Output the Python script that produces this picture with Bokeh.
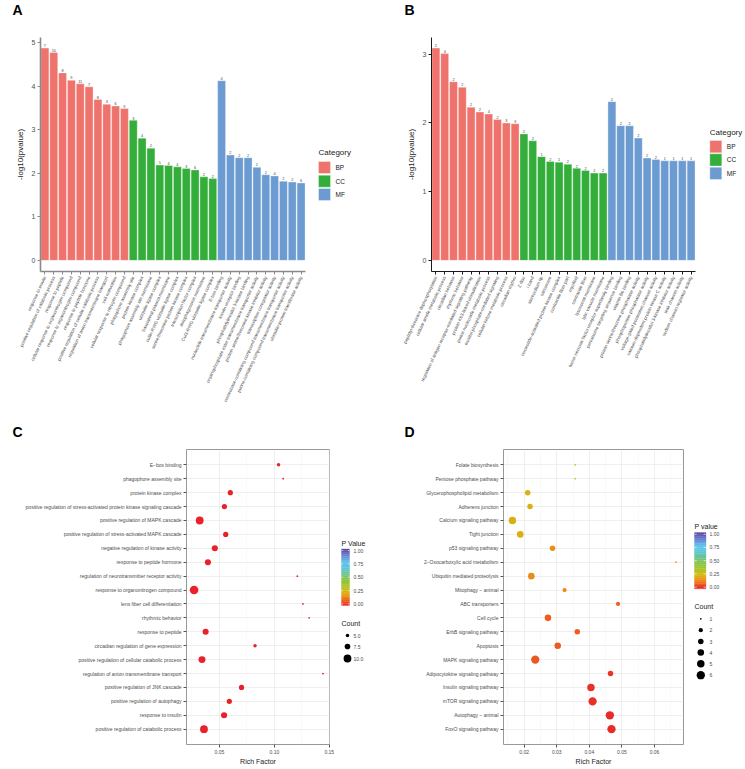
import math
from bokeh.plotting import figure
from bokeh.models import FactorRange, Range1d, FixedTicker, ColumnDataSource, PrintfTickFormatter
from bokeh.layouts import row, column
from bokeh.transform import factor_cmap, linear_cmap
from bokeh.embed import file_html
from bokeh.resources import INLINE
from bokeh.core.properties import value

FONT = "Liberation Sans"
MINUS = "\u2212"

# ---------------- Panel A data ----------------
a_bp_terms = ["response to insulin", "positive regulation of catabolic process", "response to peptide",
              "cellular response to organonitrogen compound", "response to organonitrogen compound",
              "response to peptide hormone", "positive regulation of cellular catabolic process",
              "regulation of anion transmembrane transport", "cell maturation",
              "cellular response to nitrogen compound"]
a_bp_values = [4.88, 4.78, 4.31, 4.14, 4.06, 3.99, 3.70, 3.59, 3.55, 3.49]
a_bp_counts = [7, 10, 8, 9, 11, 7, 8, 3, 6, 9]
a_cc_terms = ["phagophore assembly site", "protein kinase complex", "phagophore assembly site membrane",
              "ubiquitin ligase complex", "basolateral plasma membrane", "cullin-RING ubiquitin ligase complex",
              "serine/threonine protein kinase complex", "transcription factor complex",
              "autophagosome membrane", "Cul3-RING ubiquitin ligase complex"]
a_cc_values = [3.22, 2.81, 2.58, 2.19, 2.18, 2.15, 2.11, 2.08, 1.92, 1.88]
a_cc_counts = [3, 4, 2, 5, 4, 4, 3, 6, 2, 2]
a_mf_terms = ["E-box binding", "nucleotide transmembrane transporter activity", "insulin receptor binding",
              "phosphatidylinositol 3-kinase binding", "organophosphate ester transmembrane transporter activity",
              "protein serine/threonine kinase inhibitor activity", "transcription coregulator activity",
              "nucleobase-containing compound transmembrane transporter activity",
              "purine-containing compound transmembrane transporter activity",
              "ubiquitin-protein transferase activity"]
a_mf_values = [4.13, 2.42, 2.36, 2.36, 2.14, 1.97, 1.94, 1.82, 1.80, 1.78]
a_mf_counts = [4, 2, 2, 2, 2, 2, 4, 2, 2, 6]

# ---------------- Panel B data ----------------
b_bp_terms = ["peptidyl-threonine dephosphorylation", "cellular amide metabolic process", "circadian behavior",
              "rhythmic behavior", "regulation of antigen receptor-mediated signaling pathway",
              "protein K63-linked ubiquitination", "purine nucleoside metabolic process",
              "inositol phosphate-mediated signaling", "cellular ketone metabolic process", "circadian rhythm"]
b_bp_values = [3.09, 3.01, 2.60, 2.52, 2.23, 2.16, 2.13, 2.05, 2.00, 1.99]
b_bp_counts = [2, 4, 2, 2, 2, 2, 4, 2, 3, 3]
b_cc_terms = ["Z disc", "I band", "stereocilium tip", "sarcomere", "nucleotide-activated protein kinase complex",
              "contractile fiber part", "myofibril", "contractile fiber", "lysosomal membrane",
              "lytic vacuole membrane"]
b_cc_values = [1.84, 1.74, 1.51, 1.44, 1.43, 1.40, 1.34, 1.31, 1.27, 1.27]
b_cc_counts = [2, 2, 1, 2, 1, 2, 2, 2, 2, 2]
b_mf_terms = ["tumor necrosis factor receptor superfamily binding", "peroxisome targeting sequence binding",
              "vitamin B6 binding", "protein serine/threonine phosphatase activity",
              "phosphoprotein phosphatase activity", "voltage-gated potassium channel activity",
              "calcium-dependent protein kinase C activity", "phosphatidylinositol 3-kinase inhibitor activity",
              "leak channel activity", "sodium channel regulator activity"]
b_mf_values = [2.31, 1.96, 1.96, 1.78, 1.49, 1.47, 1.45, 1.45, 1.45, 1.45]
b_mf_counts = [2, 2, 2, 2, 2, 2, 1, 1, 1, 1]

categories = ["BP", "CC", "MF"]
category_colors = ["#EE736C", "#33AE3A", "#6B9BD1"]

# ---------------- Panel C data (top to bottom) ----------------
c_terms = ["E" + MINUS + "box binding", "phagophore assembly site", "protein kinase complex",
           "positive regulation of stress-activated protein kinase signaling cascade",
           "positive regulation of MAPK cascade", "positive regulation of stress-activated MAPK cascade",
           "negative regulation of kinase activity", "response to peptide hormone",
           "regulation of neurotransmitter receptor activity", "response to organonitrogen compound",
           "lens fiber cell differentiation", "rhythmic behavior", "response to peptide",
           "circadian regulation of gene expression", "positive regulation of cellular catabolic process",
           "regulation of anion transmembrane transport", "positive regulation of JNK cascade",
           "positive regulation of autophagy", "response to insulin", "positive regulation of catabolic process"]
c_rich = [0.1038, 0.1080, 0.0599, 0.0545, 0.0320, 0.0557, 0.0458, 0.0395, 0.1209, 0.0269,
          0.1260, 0.1317, 0.0374, 0.0824, 0.0341, 0.1443, 0.0701, 0.0590, 0.0542, 0.0359]
c_count = [5, 3, 7, 7, 10, 7, 8, 8, 3, 11, 3, 3, 8, 5, 9, 3, 7, 7, 8, 10]
c_pval = [0.004, 0.006, 0.003, 0.002, 0.001, 0.002, 0.002, 0.001, 0.008, 0.0005,
          0.007, 0.007, 0.001, 0.004, 0.0005, 0.003, 0.001, 0.0008, 0.0002, 0.0002]
c_size_legend = [5.0, 7.5, 10.0]

# ---------------- Panel D data (top to bottom) ----------------
d_terms = ["Folate biosynthesis", "Pentose phosphate pathway", "Glycerophospholipid metabolism",
           "Adherens junction", "Calcium signaling pathway", "Tight junction", "p53 signaling pathway",
           "2" + MINUS + "Oxocarboxylic acid metabolism", "Ubiquitin mediated proteolysis",
           "Mitophagy " + MINUS + " animal", "ABC transporters", "Cell cycle", "ErbB signaling pathway",
           "Apoptosis", "MAPK signaling pathway", "Adipocytokine signaling pathway",
           "Insulin signaling pathway", "mTOR signaling pathway", "Autophagy " + MINUS + " animal",
           "FoxO signaling pathway"]
d_rich = [0.0357, 0.0357, 0.0211, 0.0218, 0.0164, 0.0188, 0.0287, 0.0666, 0.0222, 0.0324,
          0.0488, 0.0273, 0.0363, 0.0303, 0.0234, 0.0465, 0.0405, 0.0410, 0.0463, 0.0468]
d_count = [1, 1, 3, 3, 5, 4, 3, 1, 4, 2, 2, 4, 3, 4, 6, 3, 5, 6, 6, 6]
d_pval = [0.28, 0.28, 0.24, 0.24, 0.235, 0.235, 0.17, 0.17, 0.165, 0.165,
          0.09, 0.085, 0.085, 0.08, 0.075, 0.03, 0.025, 0.02, 0.015, 0.012]
d_size_legend = [1, 2, 3, 4, 5, 6]

pval_ticks = [0.0, 0.25, 0.5, 0.75, 1.0]

# ---------------- colour scale ----------------
stops = [(0.0, "#E8212A"), (0.10, "#EE6A1E"), (0.20, "#E8A010"), (0.27, "#CDBE12"),
         (0.35, "#A8C62A"), (0.47, "#86C444"), (0.58, "#66C4A8"), (0.68, "#5BC6DC"),
         (0.76, "#5BC5EF"), (0.88, "#6A84D4"), (1.0, "#5A3F99")]


def _rgb(h):
    return tuple(int(h[i:i + 2], 16) for i in (1, 3, 5))


def make_palette(n=256):
    out = []
    for i in range(n):
        t = i / (n - 1)
        for (t0, c0), (t1, c1) in zip(stops[:-1], stops[1:]):
            if t0 <= t <= t1:
                f = (t - t0) / (t1 - t0)
                a, b = _rgb(c0), _rgb(c1)
                out.append("#%02x%02x%02x" % tuple(int(round(a[k] + (b[k] - a[k]) * f)) for k in range(3)))
                break
    return out


PALETTE = make_palette()


def c_size(c):
    return 1.8 + (c - 3) * 0.86


def d_size(c):
    return 1.7 + 6.6 * ((c - 1) / 5.0) ** 0.6


def txt(p, x, y, s, size, color="#1a1a1a", align="left", baseline="middle", style="normal"):
    p.text(x=[x], y=[y], text=[s], text_font=value(FONT), text_font_size=size, text_font_style=style,
           text_color=color, text_align=align, text_baseline=baseline)


def blank(w, h, x0=0.0, y_top=0.0, y_bot=None, mbt=0, mbb=0):
    """Blank canvas whose data coordinates are page pixels (y pointing down)."""
    if y_bot is None:
        y_bot = y_top + h
    f = figure(width=w, height=h, x_range=Range1d(x0, x0 + w), y_range=Range1d(y_bot, y_top),
               x_axis_type=None, y_axis_type=None, output_backend="svg", toolbar_location=None,
               min_border=0, min_border_left=0, min_border_right=0, min_border_top=mbt,
               min_border_bottom=mbb)
    f.grid.visible = False
    f.outline_line_color = None
    return f


def bar_panel(groups, yticks, w, h, mbl, mbr, mbt, mbb, axis_color, axis_w):
    terms, vals, cnts, cats = [], [], [], []
    for cat, (t, v, c) in zip(categories, groups):
        terms += t
        vals += v
        cnts += c
        cats += [cat] * len(t)
    ymax = max(vals) * 1.05
    src = ColumnDataSource(dict(term=terms, val=vals, lab=[str(c) for c in cnts], cat=cats))
    p = figure(x_range=FactorRange(factors=terms, range_padding=0), y_range=Range1d(-0.05 * ymax, ymax),
               width=w, height=h, min_border_left=mbl, min_border_right=mbr, min_border_top=mbt,
               min_border_bottom=mbb, output_backend="svg", toolbar_location=None)
    p.vbar(x="term", top="val", bottom=0, width=0.9, source=src,
           fill_color=factor_cmap("cat", category_colors, categories),
           line_color="white", line_alpha=0.55, line_width=0.6)
    p.text(x="term", y="val", text="lab", source=src, text_font=value(FONT), text_font_size="3.8px",
           text_color="#444444", text_align="center", text_baseline="bottom", y_offset=-0.8)
    p.grid.visible = False
    p.outline_line_color = None
    p.yaxis.ticker = FixedTicker(ticks=yticks)
    for ax in (p.xaxis, p.yaxis):
        ax.axis_line_color = axis_color
        ax.axis_line_width = axis_w
        ax.major_tick_line_color = axis_color
        ax.major_tick_out = 3
        ax.major_tick_in = 0
        ax.minor_tick_line_color = None
        ax.major_label_text_color = "#4D4D4D"
        ax.major_label_text_font = FONT
    p.yaxis.major_label_text_font_size = "7px"
    p.yaxis.major_label_standoff = 2
    p.yaxis.axis_label = "-log10(pvalue)"
    p.yaxis.axis_label_text_font = FONT
    p.yaxis.axis_label_text_font_size = "8px"
    p.yaxis.axis_label_text_font_style = "normal"
    p.yaxis.axis_label_text_color = "#1a1a1a"
    p.yaxis.axis_label_standoff = 4
    p.xaxis.major_label_text_font_size = "4.5px"
    p.xaxis.major_label_orientation = math.radians(65)
    p.xaxis.major_label_standoff = 2
    return p


def dot_panel(terms, rich, cnt, pv, sizef, xr, xt, xminor, w, h, mbl, mbr, mbt, mbb):
    src = ColumnDataSource(dict(term=terms, rf=rich, cnt=cnt, p=pv, sz=[sizef(c) for c in cnt]))
    p = figure(y_range=FactorRange(factors=list(reversed(terms)), range_padding=0.6,
                                   range_padding_units="absolute"),
               x_range=Range1d(*xr), width=w, height=h, min_border_left=mbl, min_border_right=mbr,
               min_border_top=mbt, min_border_bottom=mbb, output_backend="svg", toolbar_location=None)
    tk = FixedTicker(ticks=xt, minor_ticks=xminor)
    p.xaxis.ticker = tk
    p.xgrid.ticker = tk
    p.xaxis.formatter = PrintfTickFormatter(format="%.2f")
    p.grid.grid_line_color = "#EBEBEB"
    p.grid.grid_line_width = 0.8
    p.xgrid.minor_grid_line_color = "#F3F3F3"
    p.xgrid.minor_grid_line_width = 0.5
    p.outline_line_color = "#8C8C8C"
    p.outline_line_width = 0.9
    p.scatter(x="rf", y="term", size="sz", source=src, line_color=None,
              fill_color=linear_cmap("p", PALETTE, 0, 1))
    for ax in (p.xaxis, p.yaxis):
        ax.axis_line_color = None
        ax.major_tick_line_color = "#555555"
        ax.major_tick_out = 3
        ax.major_tick_in = 0
        ax.minor_tick_line_color = None
        ax.major_label_text_color = "#4D4D4D"
        ax.major_label_text_font = FONT
        ax.major_label_standoff = 2
    p.xaxis.major_label_standoff = 1
    p.yaxis.major_label_text_font_size = "5px"
    p.xaxis.major_label_text_font_size = "5px"
    p.xaxis.axis_label = "Rich Factor"
    p.xaxis.axis_label_text_font = FONT
    p.xaxis.axis_label_text_font_size = "7px"
    p.xaxis.axis_label_text_font_style = "normal"
    p.xaxis.axis_label_text_color = "#1a1a1a"
    p.xaxis.axis_label_standoff = 1
    return p


def cat_legend(f, x, ty, keys_y, kh, lx):
    txt(f, x, ty, "Category", "8px")
    for cat, col, ky in zip(categories, category_colors, keys_y):
        f.quad(left=[x], right=[x + 12], top=[ky], bottom=[ky + kh], fill_color=col,
               line_color="white", line_alpha=0.6, line_width=0.6)
        txt(f, lx, ky + kh / 2.0, cat, "6.5px")


def p_legend(f, title, x, ty, bx0, bx1, y1, y0, lx, count_title_y, cx, cys, svals, sizef, fmt):
    txt(f, x, ty, title, "7px")
    nb = 30
    span = y0 - y1
    top_edge = y1 - span * 0.03
    bot_edge = y0 + span * 0.03
    full = bot_edge - top_edge
    for i in range(nb):
        vt = (i + 0.5) / nb
        yb = bot_edge - full * i / nb
        yt = bot_edge - full * (i + 1) / nb
        col = PALETTE[int(vt * 255)]
        f.quad(left=[bx0], right=[bx1], top=[yt], bottom=[yb], fill_color=col, line_color=col, line_width=0.3)
    bw = bx1 - bx0
    for v in pval_ticks:
        yy = y0 - (y0 - y1) * v
        f.segment(x0=[bx0], x1=[bx0 + bw * 0.2], y0=[yy], y1=[yy], line_color="white", line_width=0.6)
        f.segment(x0=[bx1 - bw * 0.2], x1=[bx1], y0=[yy], y1=[yy], line_color="white", line_width=0.6)
        txt(f, lx, yy, "%.2f" % v, "5px", color="#4D4D4D")
    txt(f, x, count_title_y, "Count", "7px")
    f.scatter(x=[cx] * len(svals), y=cys, size=[sizef(s) for s in svals], fill_color="black", line_color=None)
    for s, yy in zip(svals, cys):
        txt(f, lx, yy, fmt(s), "5px", color="#4D4D4D")


# ---------------- letter strips ----------------
TOP_STRIP = 18
stripTop = blank(745, TOP_STRIP, 0, 0)
txt(stripTop, 12, 1, "A", "14px", color="#000000", baseline="top", style="bold")
txt(stripTop, 404, 1, "B", "14px", color="#000000", baseline="top", style="bold")

BOT_Y0 = 410
BOT_STRIP = 30
stripBot = blank(745, BOT_STRIP, 0, BOT_Y0)
txt(stripBot, 12, BOT_Y0 + 13, "C", "14px", color="#000000", baseline="top", style="bold")
txt(stripBot, 404, BOT_Y0 + 13, "D", "14px", color="#000000", baseline="top", style="bold")

# ---------------- top row (page y 18..410), common frame 37..271 ----------------
RY = TOP_STRIP
RH = 410 - RY
T_TOP, T_BOT = 37, 271
tb_top, tb_bot = T_TOP - RY, 410 - T_BOT
figA = bar_panel([(a_bp_terms, a_bp_values, a_bp_counts), (a_cc_terms, a_cc_values, a_cc_counts),
                  (a_mf_terms, a_mf_values, a_mf_counts)], [0, 1, 2, 3, 4, 5],
                 313, RH, 40, 8, tb_top, tb_bot, "#8A8A8A", 1.6)
legA = blank(65, RH, 313, T_TOP, T_BOT, tb_top, tb_bot)
cat_legend(legA, 318, 152, [161, 174.7, 188], 12, 335)

figB = bar_panel([(b_bp_terms, b_bp_values, b_bp_counts), (b_cc_terms, b_cc_values, b_cc_counts),
                  (b_mf_terms, b_mf_values, b_mf_counts)], [0, 1, 2, 3],
                 322, RH, 53, 5, tb_top, tb_bot, "#1a1a1a", 1.0)
legB = blank(45, RH, 700, T_TOP, T_BOT, tb_top, tb_bot)
cat_legend(legB, 709.3, 132, [140, 153.3, 166.7], 12.3, 726.3)

# ---------------- bottom row (page y 440..768), common frame 449..744 ----------------
BY = BOT_Y0 + BOT_STRIP
BH = 768 - BY
B_TOP, B_BOT = 449, 744
bb_top, bb_bot = B_TOP - BY, 768 - B_BOT
figC = dot_panel(c_terms, c_rich, c_count, c_pval, c_size, (0.0200, 0.1502), [0.05, 0.10, 0.15],
                 [0.025, 0.075, 0.125], 337, BH, 186, 8, bb_top, bb_bot)
legC = blank(43, BH, 337, B_TOP, B_BOT, bb_top, bb_bot)
p_legend(legC, "P Value", 341, 543, 341, 349, 550, 603.5, 353, 623, 347,
         [635, 646, 658], c_size_legend, c_size, lambda s: "%.1f" % s)

figD = dot_panel(d_terms, d_rich, d_count, d_pval, d_size, (0.01366, 0.0689), [0.02, 0.03, 0.04, 0.05, 0.06],
                 [0.015, 0.025, 0.035, 0.045, 0.055, 0.065], 310, BH, 123, 7, bb_top, bb_bot)
legD = blank(55, BH, 690, B_TOP, B_BOT, bb_top, bb_bot)
p_legend(legD, "P value", 694, 526, 694, 705.5, 533.7, 586.7, 709, 606, 700.3,
         [618.3, 629.7, 641, 652, 663.3, 674.7], d_size_legend, d_size, lambda s: "%d" % s)

layout = column(stripTop, row(figA, legA, figB, legB), stripBot, row(figC, legC, figD, legD))
open("out.html", "w").write(file_html(layout, INLINE))
